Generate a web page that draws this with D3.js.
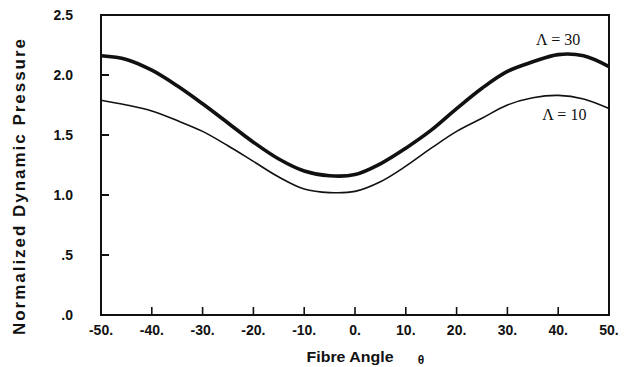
<!DOCTYPE html>
<html><head><meta charset="utf-8">
<script src="https://cdn.jsdelivr.net/npm/d3@7"></script>
<style>html,body{margin:0;padding:0;background:#fff;}svg{display:block;}</style>
</head><body>
<script>
const theta = [-50,-45,-40,-35,-30,-25,-20,-15,-10,-5,0,5,10,15,20,25,30,35,40,45,50];
const lambda30 = [2.16,2.13,2.04,1.91,1.76,1.60,1.44,1.30,1.20,1.16,1.17,1.26,1.39,1.54,1.72,1.89,2.03,2.11,2.17,2.16,2.07];
const lambda10 = [1.79,1.75,1.70,1.62,1.53,1.41,1.28,1.15,1.05,1.02,1.03,1.11,1.24,1.39,1.53,1.64,1.75,1.81,1.83,1.80,1.72];
const xTicks = [-50,-40,-30,-20,-10,0,10,20,30,40,50];
const xTickLabels = ["-50.","-40.","-30.","-20.","-10.","0.","10.","20.","30.","40.","50."];
const yTicks = [0,0.5,1.0,1.5,2.0,2.5];
const yTickLabels = [".0",".5","1.0","1.5","2.0","2.5"];
const seriesLabels = ["\u039b = 30","\u039b = 10"];

const W = 624, H = 367;
const svg = d3.select("body").append("svg").attr("width", W).attr("height", H);
const x = d3.scaleLinear().domain([-50,50]).range([101,609]);
const y = d3.scaleLinear().domain([0,2.5]).range([315,15]);
const ink = "#111";

svg.append("rect").attr("x", x(-50)).attr("y", y(2.5))
  .attr("width", x(50)-x(-50)).attr("height", y(0)-y(2.5))
  .attr("fill","none").attr("stroke",ink).attr("stroke-width",2);

svg.append("g").selectAll("line").data(yTicks.filter(v=>v>0&&v<2.5)).join("line")
  .attr("x1", x(-50)).attr("x2", x(-50)+8)
  .attr("y1", d=>y(d)).attr("y2", d=>y(d))
  .attr("stroke",ink).attr("stroke-width",2);
svg.append("g").selectAll("line").data(xTicks.filter(v=>v>-50&&v<50)).join("line")
  .attr("x1", d=>x(d)).attr("x2", d=>x(d))
  .attr("y1", y(0)).attr("y2", y(0)-8)
  .attr("stroke",ink).attr("stroke-width",1.6);

const lab = "Liberation Sans, Arial, Helvetica, sans-serif";
svg.append("g").selectAll("text").data(yTicks).join("text")
  .attr("x", 73).attr("y", d=>y(d)+5)
  .attr("text-anchor","end").attr("font-family",lab).attr("font-weight","bold")
  .attr("font-size",14).attr("fill",ink)
  .text((d,i)=>yTickLabels[i]);
svg.append("g").selectAll("text").data(xTicks).join("text")
  .attr("x", d=>x(d)).attr("y", 335)
  .attr("text-anchor","middle").attr("font-family",lab).attr("font-weight","bold")
  .attr("font-size",14).attr("fill",ink)
  .text((d,i)=>xTickLabels[i]);

svg.append("text").attr("x",350).attr("y",362).attr("text-anchor","middle")
  .attr("font-family",lab).attr("font-weight","bold").attr("font-size",15).attr("fill",ink)
  .attr("textLength",87).attr("lengthAdjust","spacingAndGlyphs").text("Fibre Angle");
svg.append("text").attr("x",421).attr("y",364).attr("text-anchor","middle")
  .attr("font-family",lab).attr("font-weight","bold").attr("font-size",12).attr("fill",ink)
  .text("\u03b8");
svg.append("text").attr("transform","translate(25,187) rotate(-90)").attr("text-anchor","middle")
  .attr("font-family",lab).attr("font-weight","bold").attr("font-size",17).attr("fill",ink)
  .attr("textLength",296).attr("lengthAdjust","spacing").text("Normalized Dynamic Pressure");

const line = d3.line().x((d,i)=>x(theta[i])).y(d=>y(d)).curve(d3.curveCatmullRom.alpha(0.5));
svg.append("path").attr("d", line(lambda30)).attr("fill","none").attr("stroke",ink).attr("stroke-width",3.6);
svg.append("path").attr("d", line(lambda10)).attr("fill","none").attr("stroke",ink).attr("stroke-width",1.6);

const ser = "Liberation Serif, Times New Roman, serif";
svg.append("text").attr("x", x(40)).attr("y", y(2.25)).attr("text-anchor","middle")
  .attr("font-family",ser).attr("font-size",16).attr("fill",ink).text(seriesLabels[0]);
svg.append("text").attr("x", x(41.2)).attr("y", y(1.625)).attr("text-anchor","middle")
  .attr("font-family",ser).attr("font-size",16).attr("fill",ink).text(seriesLabels[1]);
</script>
</body></html>
